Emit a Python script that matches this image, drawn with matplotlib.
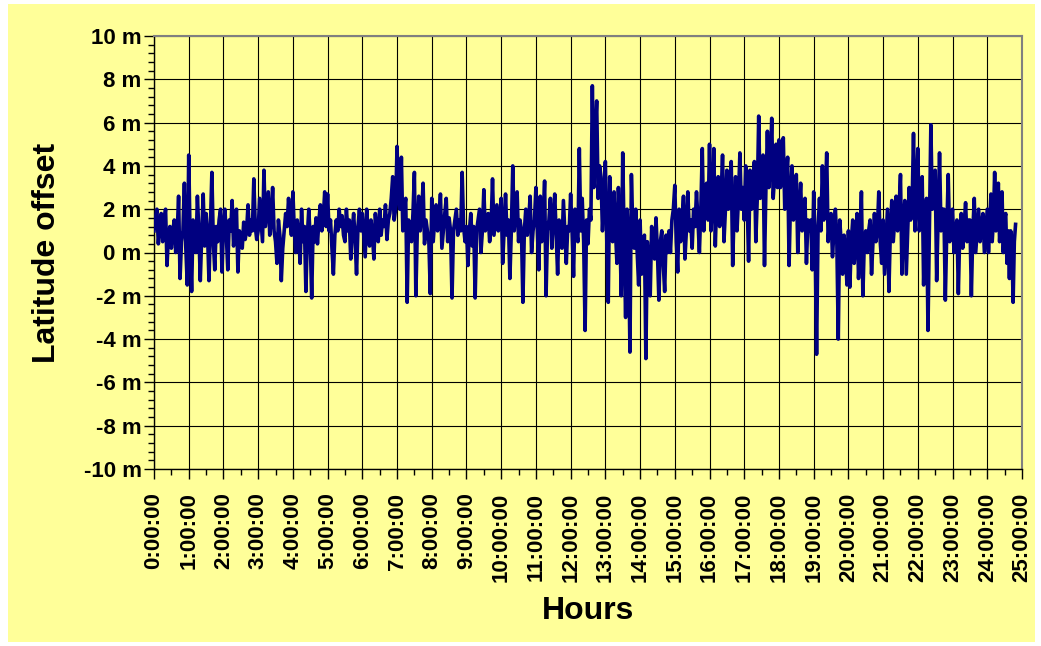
import matplotlib
matplotlib.use("Agg")
import matplotlib.pyplot as plt
import numpy as np
from matplotlib.patches import Rectangle
from matplotlib.ticker import MultipleLocator, FuncFormatter

# latitude offset (m), one list per hour of the log
h00 = [1.0, 1.6, 2.0, 0.4, 1.2, 1.8, 0.5, 1.5, 2.0, -0.6, 0.8, 1.2, 0.2, 1.0, 1.5, 0.0, 0.8, 2.6, -1.2, 0.5, 1.0, 3.2, 0.2, -1.5]
h01 = [4.5, 0.5, -1.8, 1.5, 0.6, 0.0, 2.6, 1.0, -1.3, 0.8, 2.7, 0.3, 1.8, 0.9, -1.3, 1.2, 3.7, 0.5, -0.8, 1.2, 0.5, 1.5, 2.0, -0.9]
h02 = [1.2, 2.0, 0.8, -0.8, 1.5, 1.0, 2.4, 0.3, 1.2, 2.0, -0.9, 1.0, 0.6, 0.2, 1.4, 0.6, 1.0, 2.2, 0.8, 1.5, 1.0, 3.4, 1.2, 0.6]
h03 = [1.0, 2.5, 1.5, 0.5, 3.8, 1.2, 2.0, 2.8, 0.8, 1.5, 3.0, 1.0, 0.5, -0.5, 1.5, 0.8, -1.3, 0.2, 1.0, 1.8, 1.2, 2.5, 1.5, 0.8]
h04 = [2.8, 1.0, 0.0, 1.5, 0.8, -0.5, 2.0, 0.5, 1.2, -1.8, 0.8, 2.0, 0.6, -2.1, 1.2, 0.5, 1.6, 0.4, 1.5, 2.2, 1.0, 1.6, 2.8, 1.2]
h05 = [2.7, 1.0, 1.5, 0.2, -1.0, 0.8, 1.5, 1.0, 2.0, 1.2, 1.7, 0.8, 0.5, 2.0, 1.0, 1.5, -0.3, 1.0, 1.8, 0.6, -1.0, 1.2, 2.0, 1.0]
h06 = [1.8, 0.8, -0.2, 2.0, 1.0, 0.3, 1.5, 0.8, -0.3, 1.8, 1.0, 0.5, 2.0, 0.8, 1.5, 1.2, 2.2, 0.6, 1.5, 1.8, 2.5, 3.5, 1.5, 2.0]
h07 = [4.9, 2.5, 2.0, 4.4, 1.0, 2.0, 2.5, -2.3, 1.5, 1.0, 0.5, 1.8, 3.7, -2.0, 1.0, 2.6, 1.0, 1.8, 3.2, 0.4, 1.5, 1.0, 0.5, -1.9]
h08 = [2.5, 0.5, 1.5, 2.2, 1.0, 1.5, 2.7, 0.2, 1.0, 1.8, 2.5, 0.5, 1.6, 1.0, -2.1, 1.0, 1.5, 2.0, 0.8, 1.5, 1.0, 3.7, 1.2, 0.5]
h09 = [1.2, -0.6, 1.0, 1.8, 0.3, 1.2, -2.1, 1.0, 1.5, 2.0, 0.0, 1.0, 2.9, 1.0, 1.5, 1.8, 0.5, 1.2, 3.4, 0.8, 1.5, 2.2, 1.0, 1.5]
h10 = [2.5, -0.5, 1.0, 2.7, 0.8, 1.5, -1.2, 1.0, 4.0, 1.0, 2.0, 2.8, 0.5, 1.5, 1.0, -2.3, 1.0, 2.0, 0.8, 1.5, 2.6, 0.0, 1.0, 1.5]
h11 = [3.0, 1.0, -0.8, 2.6, 0.5, 1.5, 3.3, -2.0, 1.0, 1.5, 2.5, 0.2, 1.5, 2.7, 0.8, -1.0, 1.5, 1.0, 0.2, 2.4, 1.0, -0.5, 1.2, 1.0]
h12 = [2.7, 1.0, -1.1, 2.0, 1.0, 0.5, 4.8, 1.0, 2.5, 0.5, -3.6, 1.5, 0.4, 2.0, 1.5, 7.7, 3.0, 5.5, 7.0, 2.5, 4.0, 3.5, 1.0, 2.5]
h13 = [4.2, 0.5, -2.3, 3.5, 1.5, 0.5, 2.8, 1.0, -0.5, 3.0, 1.0, -2.0, 4.6, 0.5, -3.0, 2.0, 0.5, -4.6, 3.6, 1.0, 0.2, 2.0, 0.0, -1.5]
h14 = [1.5, -1.0, 0.5, 0.8, -4.9, 0.5, -0.5, -2.0, 1.2, 0.0, -0.3, 1.6, 0.0, -2.2, 0.5, 1.0, -0.5, -1.8, 0.8, 0.0, 1.0, 0.0, 1.5, 2.0]
h15 = [3.1, 0.5, -0.9, 2.0, 0.5, 1.5, 2.6, -0.3, 1.0, 2.8, 1.0, 1.5, 0.2, 2.0, 1.2, 2.8, 1.5, 0.0, 2.0, 4.8, 1.0, 2.5, 3.2, 1.5]
h16 = [5.0, 1.0, 2.5, 4.8, 0.3, 2.5, 3.5, 1.2, 2.5, 4.5, 0.5, 2.0, 3.8, 2.0, 3.0, 4.2, -0.6, 2.0, 3.5, 1.0, 2.5, 4.6, 2.0, 3.0]
h17 = [1.5, 4.0, 2.5, -0.4, 3.8, 2.0, 3.0, 4.2, 0.5, 2.5, 6.3, 2.5, 3.5, 4.5, -0.6, 3.0, 5.6, 3.0, 4.0, 6.2, 2.5, 3.5, 5.0, 3.0]
h18 = [5.2, 3.0, 4.0, 5.3, 2.0, 3.5, 4.4, -0.6, 2.5, 4.0, 1.5, 3.0, 3.6, 0.0, 2.0, 3.2, 1.0, 2.0, 2.5, -0.5, 1.5, 1.0, 1.5, -0.8]
h19 = [2.8, 0.5, -4.7, 1.0, 2.5, 1.0, 4.0, 1.5, 2.5, 4.6, 0.5, 1.5, 1.8, -0.2, 1.0, 2.0, 0.5, -4.0, 1.5, 0.5, -1.0, 0.8, 0.0, -1.5]
h20 = [1.0, -1.6, 0.5, 1.5, -0.5, 0.5, 1.8, -1.2, 0.5, 2.8, -2.0, 0.5, 1.0, 0.0, 1.0, 1.5, -1.0, 0.5, 1.8, 0.5, 1.0, 2.8, 0.5, -0.5]
h21 = [1.5, -1.0, 0.5, 2.0, -1.8, 1.0, 2.4, 0.5, 1.5, 2.6, 1.0, 2.0, 3.6, -1.0, 1.5, 2.4, -1.0, 1.0, 3.0, 1.5, 2.0, 5.5, 1.0, 2.5]
h22 = [4.8, 1.0, 2.0, 3.5, -1.5, 1.5, 2.5, -3.6, 1.0, 5.9, 2.0, 3.0, 3.8, -1.3, 1.5, 4.6, 1.0, 2.0, 2.0, -2.2, 1.0, 3.6, 0.5, 1.5]
h23 = [2.0, 0.0, 1.0, 1.5, -1.9, 1.0, 1.8, 0.2, 1.2, 2.3, 0.5, 1.5, 1.5, -2.0, 1.0, 2.5, 0.0, 1.0, 2.0, 0.5, 1.2, 1.8, 0.0, 1.0]
h24 = [2.0, 0.0, 1.5, 2.7, 0.5, 1.5, 3.7, 1.0, 2.0, 3.2, 0.5, 1.5, 2.8, 0.0, 1.5, 1.8, -0.5, 1.0, -1.2, 1.0, 0.5, -2.3, 0.5, 1.3]

hours = [h00, h01, h02, h03, h04, h05, h06, h07, h08, h09, h10, h11, h12,
         h13, h14, h15, h16, h17, h18, h19, h20, h21, h22, h23, h24]
last_span = 0.85   # the log stops a little before 25:00

t_parts = []
for i, h in enumerate(hours):
    span = last_span if i == len(hours) - 1 else 1.0
    t_parts.append(i + np.arange(len(h)) * span / len(h))
t = np.concatenate(t_parts)
lat = np.concatenate(hours)

fig = plt.figure(figsize=(10.41, 6.46), dpi=100, facecolor="white")
fig.patches.append(Rectangle((8 / 1041, 4 / 646), 1027 / 1041, 638 / 646,
                             transform=fig.transFigure, facecolor="#FFFF99",
                             edgecolor="none", zorder=-10))

ax = fig.add_axes([154 / 1041, 1 - 469 / 646, 868 / 1041, 433 / 646])
ax.set_zorder(1)
ax.set_facecolor("#FFFF99")

ax.plot(t, lat, color="#000080", lw=2.6, zorder=3)

ax.set_xlim(0, 25)
ax.set_ylim(-10, 10)
ax.xaxis.set_major_locator(MultipleLocator(1))
ax.xaxis.set_minor_locator(MultipleLocator(0.5))
ax.yaxis.set_major_locator(MultipleLocator(2))
ax.yaxis.set_minor_locator(MultipleLocator(0.4))
ax.xaxis.set_major_formatter(FuncFormatter(lambda v, p: "%d:00:00" % int(round(v))))
ax.yaxis.set_major_formatter(FuncFormatter(lambda v, p: "%d m" % int(round(v))))

ax.grid(True, which="major", color="black", lw=0.8)
ax.set_axisbelow(True)

for s in ["top", "right"]:
    ax.spines[s].set_color("#808080")
    ax.spines[s].set_linewidth(1.5)
for s in ["left", "bottom"]:
    ax.spines[s].set_color("black")
    ax.spines[s].set_linewidth(1.0)

font = "Liberation Sans"
ax.tick_params(axis="both", which="major", direction="out", length=7, width=1, color="black")
ax.tick_params(axis="both", which="minor", direction="out", length=4, width=1, color="black")
ax.tick_params(axis="y", pad=2)
ax.tick_params(axis="x", pad=10)
for lab in ax.get_yticklabels():
    lab.set_fontfamily(font)
    lab.set_fontweight("bold")
    lab.set_fontsize(16)
for lab in ax.get_xticklabels():
    lab.set_fontfamily(font)
    lab.set_fontweight("bold")
    lab.set_fontsize(16)
    lab.set_rotation(90)

ax.set_ylabel("Latitude offset", fontfamily=font, fontweight="bold", fontsize=23)
ax.set_xlabel("Hours", fontfamily=font, fontweight="bold", fontsize=23)
ax.yaxis.set_label_coords((62 - 154) / 868, 0.5)
ax.xaxis.set_label_coords((588 - 154) / 868, -(596 - 469) / 433)

fig.savefig("out.png", dpi=100, facecolor=fig.get_facecolor())
